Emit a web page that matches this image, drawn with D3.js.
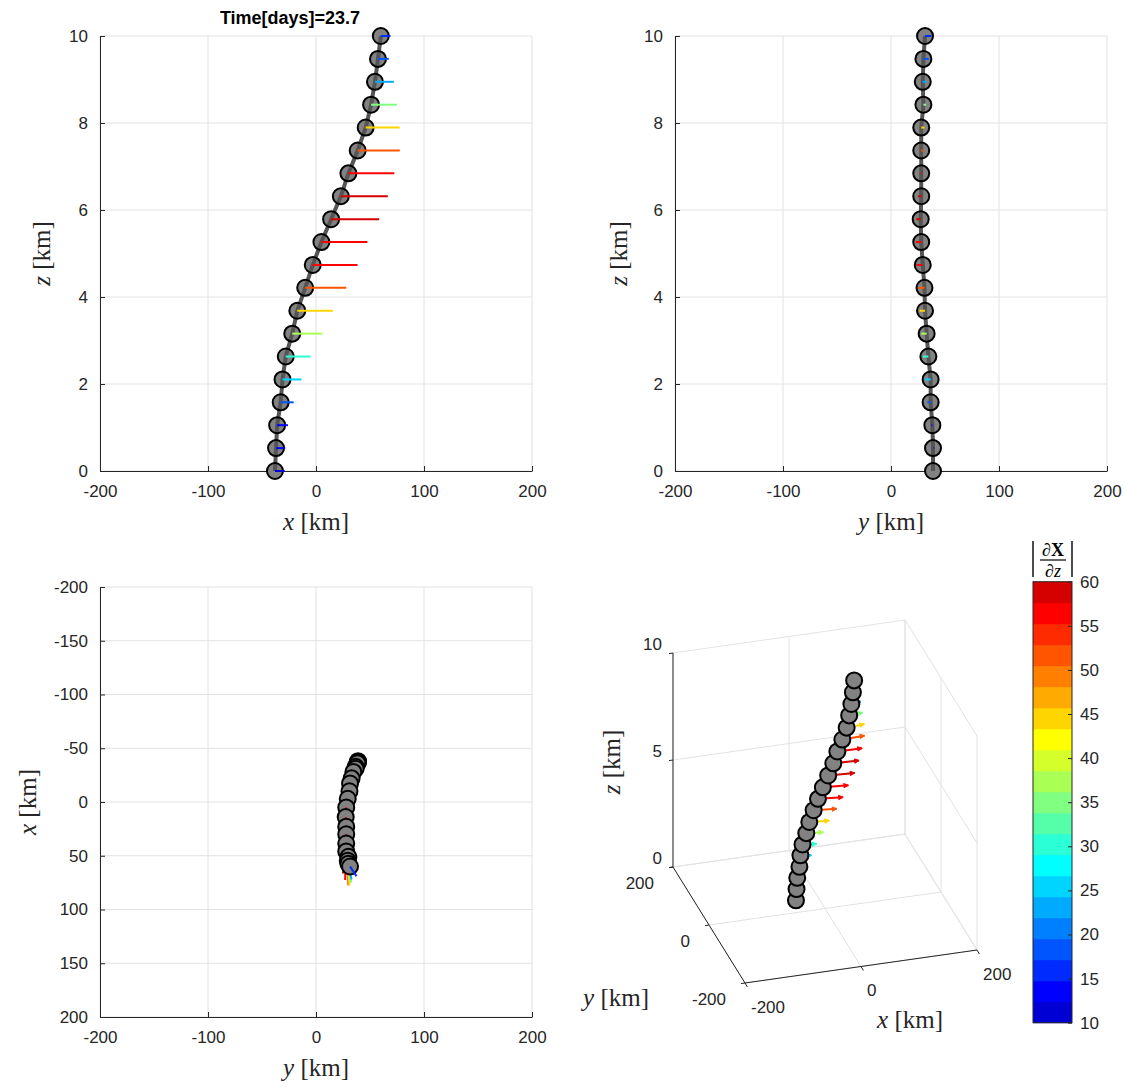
<!DOCTYPE html>
<html><head><meta charset="utf-8">
<script src="https://cdn.jsdelivr.net/npm/d3@7"></script>
<style>body{margin:0;background:#fff}</style>
</head><body>
<svg id="c" width="1124" height="1090" xmlns="http://www.w3.org/2000/svg"></svg>
<script>
// ---- data ----
const titleText = "Time[days]=23.7";
const zVals = [0, 0.526, 1.053, 1.579, 2.105, 2.632, 3.158, 3.684, 4.211, 4.737, 5.263, 5.789, 6.316, 6.842, 7.368, 7.895, 8.421, 8.947, 9.474, 10];
const xVals = [-38, -37, -36, -32.7, -31, -28, -22, -17.3, -10, -3, 5, 14, 23, 30, 38.6, 46, 51, 54.6, 57.4, 60];
const yVals = [38.9, 38.9, 38.3, 36.7, 36.7, 34.6, 33, 31.5, 31, 29.4, 28, 27.5, 28, 28, 28, 28, 30, 29.4, 30, 31.5];
const uVals = [9, 8.5, 10, 12, 17.5, 23, 28, 33, 38, 41.5, 42.5, 44.5, 43.5, 42.5, 39, 31.5, 24, 17.5, 10, 9];
const vVals = [0, 0.5, -1, -3, -5, -5, -5, -5, -6, -6, -5, -4, -3, -1, 2, 3, 2.5, 3.5, 5, 6];
const magVals = [11, 13.5, 14.5, 18.5, 25.5, 30, 37.5, 44.5, 51.5, 56, 56.5, 58.5, 58.5, 57, 51.5, 44.5, 35, 23, 18, 17];
const jetColors = ["#0000D5","#0000FF","#002BFF","#0055FF","#0080FF","#00AAFF","#00D5FF","#00FFFF","#2BFFD5","#55FFAA","#80FF80","#AAFF55","#D5FF2B","#FFFF00","#FFD500","#FFAA00","#FF8000","#FF5500","#FF2B00","#FF0000","#D50000"];
const cbDomain = [10, 60];
const cbTicks = [10, 15, 20, 25, 30, 35, 40, 45, 50, 55, 60];
const kmDomain = [-200, 200];
const kmTicks = [-200, -100, 0, 100, 200];
const kmTicksFine = [-200, -150, -100, -50, 0, 50, 100, 150, 200];
const zDomain = [0, 10];
const zTicks = [0, 2, 4, 6, 8, 10];
const ticks3D = [-200, 0, 200];
const zTicks3D = [0, 5, 10];

// ---- style ----
const AX = "#262626", GRID = "#e2e2e2";
const SANS = "'Liberation Sans', Arial, Helvetica, sans-serif";
const SERIF = "'Liberation Serif', 'Times New Roman', serif";
const TICKFS = 17;
const R = 8;
const fmt = d => String(d);

const svg = d3.select("#c");
svg.append("rect").attr("width",1124).attr("height",1090).attr("fill","#fff");
const color = d3.scaleQuantize().domain(cbDomain).range(jetColors);
const idx = d3.range(zVals.length);

function latexLabel(g, v, x, y, rot) {
  const t = g.append("text").attr("font-family", SERIF).attr("font-size", 25).attr("fill", AX)
    .attr("text-anchor","middle").attr("dy","0.3em")
    .attr("transform", `translate(${x},${y})` + (rot ? " rotate(-90)" : ""));
  t.append("tspan").attr("font-style","italic").text(v);
  t.append("tspan").text(" [km]");
}

function styleAxis(g) {
  g.selectAll(".domain").attr("stroke", AX).attr("stroke-width", 1);
  g.selectAll(".tick line").attr("stroke", AX).attr("stroke-width", 1);
  g.selectAll(".tick text").attr("fill", AX).attr("font-family", SANS).attr("font-size", TICKFS);
}

function panel2D(o) {
  const g = svg.append("g");
  const hs = d3.scaleLinear().domain(kmDomain).range([o.left, o.right]);
  const vs = d3.scaleLinear().domain(o.vDomain).range(o.vRange);
  g.selectAll(".gv").data(kmTicks).join("line")
    .attr("x1", d => hs(d)).attr("x2", d => hs(d)).attr("y1", o.top).attr("y2", o.bottom)
    .attr("stroke", GRID).attr("stroke-width", 1);
  g.selectAll(".gh").data(o.vTicks).join("line")
    .attr("x1", o.left).attr("x2", o.right).attr("y1", d => vs(d)).attr("y2", d => vs(d))
    .attr("stroke", GRID).attr("stroke-width", 1);
  const ab = g.append("g").attr("transform", `translate(0,${o.bottom})`)
    .call(d3.axisBottom(hs).tickValues(kmTicks).tickSizeInner(-5).tickSizeOuter(0).tickPadding(14).tickFormat(fmt));
  styleAxis(ab);
  const al = g.append("g").attr("transform", `translate(${o.left},0)`)
    .call(d3.axisLeft(vs).tickValues(o.vTicks).tickSizeInner(-5).tickSizeOuter(0).tickPadding(12).tickFormat(fmt));
  styleAxis(al);
  latexLabel(g, o.hLabel, (o.left + o.right) / 2, o.bottom + 51, false);
  latexLabel(g, o.vLabel, o.vLabelX, (o.top + o.bottom) / 2, true);

  const H = i => hs(o.hOf(i)), V = i => vs(o.vOf(i));
  const HT = i => hs(o.hOf(i) + o.duOf(i)), VT = i => vs(o.vOf(i) + o.dvOf(i));
  const line = d3.line().x(H).y(V);
  const drawArrow = (sel) => sel.append("line")
      .attr("x1", H).attr("y1", V).attr("x2", HT).attr("y2", VT)
      .attr("stroke", i => color(magVals[i])).attr("stroke-width", 2);
  if (!o.interleave) {
    g.selectAll(".cf").data(idx).join("circle").attr("cx", H).attr("cy", V).attr("r", R).attr("fill", "#828282");
    g.append("path").attr("d", line(idx)).attr("fill","none").attr("stroke","#555").attr("stroke-width",4);
    g.selectAll(".co").data(idx).join("circle").attr("cx", H).attr("cy", V).attr("r", R)
      .attr("fill","none").attr("stroke","#000").attr("stroke-width",2);
    const ag = g.append("g");
    idx.forEach(i => drawArrow(ag.append("g").datum(i)));
  } else {
    g.append("path").attr("d", line(idx)).attr("fill","none").attr("stroke","#555").attr("stroke-width",4);
    idx.forEach(i => {
      const pg = g.append("g").datum(i);
      pg.append("circle").attr("cx", H).attr("cy", V).attr("r", R).attr("fill","#828282").attr("stroke","#000").attr("stroke-width",2);
      drawArrow(pg);
    });
  }
  return g;
}

panel2D({left:100, right:532, top:36, bottom:471, vDomain:zDomain, vRange:[471,36], vTicks:zTicks,
  hLabel:"x", vLabel:"z", vLabelX:42,
  hOf:i=>xVals[i], vOf:i=>zVals[i], duOf:i=>uVals[i], dvOf:i=>0, interleave:false});
panel2D({left:675, right:1107, top:36, bottom:471, vDomain:zDomain, vRange:[471,36], vTicks:zTicks,
  hLabel:"y", vLabel:"z", vLabelX:619,
  hOf:i=>yVals[i], vOf:i=>zVals[i], duOf:i=>vVals[i], dvOf:i=>0, interleave:false});
panel2D({left:100, right:532, top:587, bottom:1017, vDomain:kmDomain, vRange:[587,1017], vTicks:kmTicksFine,
  hLabel:"y", vLabel:"x", vLabelX:28,
  hOf:i=>yVals[i], vOf:i=>xVals[i], duOf:i=>vVals[i], dvOf:i=>uVals[i], interleave:true});

svg.append("text").attr("x", 290).attr("y", 24).attr("text-anchor","middle")
  .attr("font-family", SANS).attr("font-weight","bold").attr("font-size",18).attr("fill","#000").text(titleText);

// ---- 3D panel ----
const g3 = svg.append("g");
const O3 = [673, 867], EX = [232, -33], EY = [72, 116], EZ = [0, -214];
const sx3 = d3.scaleLinear().domain(kmDomain).range([0,1]);
const sy3 = d3.scaleLinear().domain([200,-200]).range([0,1]);
const sz3 = d3.scaleLinear().domain(zDomain).range([0,1]);
const P = (x,y,z) => [O3[0] + sx3(x)*EX[0] + sy3(y)*EY[0] + sz3(z)*EZ[0],
                      O3[1] + sx3(x)*EX[1] + sy3(y)*EY[1] + sz3(z)*EZ[1]];
const seg = (a, b, col, w) => g3.append("line").attr("x1",a[0]).attr("y1",a[1]).attr("x2",b[0]).attr("y2",b[1])
  .attr("stroke",col).attr("stroke-width",w);
ticks3D.forEach(t => { seg(P(t,200,0), P(t,-200,0), GRID, 1); seg(P(-200,t,0), P(200,t,0), GRID, 1);
  seg(P(t,200,0), P(t,200,10), GRID, 1); seg(P(200,t,0), P(200,t,10), GRID, 1); });
zTicks3D.forEach(t => { seg(P(-200,200,t), P(200,200,t), GRID, 1); seg(P(200,200,t), P(200,-200,t), GRID, 1); });
seg(P(-200,200,0), P(-200,200,10), AX, 1);
seg(P(-200,200,0), P(-200,-200,0), AX, 1);
seg(P(-200,-200,0), P(200,-200,0), AX, 1);
const tlab = (x, y, txt, anchor) => g3.append("text").attr("x",x).attr("y",y).attr("text-anchor",anchor)
  .attr("dy","0.35em").attr("font-family",SANS).attr("font-size",TICKFS).attr("fill",AX).text(fmt(txt));
zTicks3D.forEach(t => { const p = P(-200,200,t); seg(p, [p[0]-4, p[1]+0.6], AX, 1); tlab(p[0]-11, p[1]-9, t, "end"); });
ticks3D.forEach(t => { const p = P(-200,t,0); seg(p, [p[0]-4, p[1]+0.6], AX, 1); tlab(p[0]-19, p[1]+16, t, "end"); });
ticks3D.forEach(t => { const p = P(t,-200,0); seg(p, [p[0]+2.4, p[1]+4], AX, 1); tlab(p[0]+6, p[1]+24, t, "start"); });
latexLabel(g3, "z", 612, 762, true);
latexLabel(g3, "y", 616, 998, false);
latexLabel(g3, "x", 910, 1020, false);
const pts3 = idx.map(i => P(xVals[i], yVals[i], zVals[i]));
g3.append("path").attr("d", d3.line()(pts3)).attr("fill","none").attr("stroke","#555").attr("stroke-width",4);
idx.forEach(i => {
  const a = pts3[i], b = P(xVals[i] + uVals[i], yVals[i] + vVals[i], zVals[i]);
  const c = color(magVals[i]);
  seg(a, b, c, 2);
  const ang = Math.atan2(b[1]-a[1], b[0]-a[0]);
  const hl = 5, ha = 0.45;
  const h1 = [b[0] - hl*Math.cos(ang-ha), b[1] - hl*Math.sin(ang-ha)];
  const h2 = [b[0] - hl*Math.cos(ang+ha), b[1] - hl*Math.sin(ang+ha)];
  g3.append("path").attr("d", `M${h1}L${b}L${h2}Z`).attr("fill", c).attr("stroke", c).attr("stroke-width",1);
});
idx.forEach(i => {
  g3.append("circle").attr("cx", pts3[i][0]).attr("cy", pts3[i][1]).attr("r", R)
    .attr("fill","#828282").attr("stroke","#000").attr("stroke-width",2);
});

// ---- colorbar ----
const cbx0 = 1033, cbx1 = 1072;
const cs = d3.scaleLinear().domain(cbDomain).range([1022.7, 581.7]);
const cg = svg.append("g");
const nb = jetColors.length, bw = (cbDomain[1]-cbDomain[0]) / nb;
cg.selectAll("rect.b").data(jetColors).join("rect")
  .attr("x", cbx0).attr("width", cbx1-cbx0)
  .attr("y", (d,i) => cs(cbDomain[0] + (i+1)*bw)).attr("height", (d,i) => cs(cbDomain[0] + i*bw) - cs(cbDomain[0] + (i+1)*bw) + 0.5)
  .attr("fill", d => d);
cg.append("rect").attr("x", cbx0).attr("y", cs(cbDomain[1])).attr("width", cbx1-cbx0).attr("height", cs(cbDomain[0]) - cs(cbDomain[1]))
  .attr("fill","none").attr("stroke", AX).attr("stroke-width",1);
const cax = cg.append("g").attr("transform", `translate(${cbx1},0)`)
  .call(d3.axisRight(cs).tickValues(cbTicks).tickSizeInner(-4).tickSizeOuter(0).tickPadding(8).tickFormat(fmt));
styleAxis(cax);
cax.select(".domain").remove();
const lg = cg.append("g");
lg.append("line").attr("x1",1033).attr("x2",1033).attr("y1",541).attr("y2",577).attr("stroke","#000").attr("stroke-width",1.4);
lg.append("line").attr("x1",1072).attr("x2",1072).attr("y1",541).attr("y2",577).attr("stroke","#000").attr("stroke-width",1.4);
lg.append("line").attr("x1",1040).attr("x2",1066).attr("y1",560).attr("y2",560).attr("stroke","#000").attr("stroke-width",1.2);
const num = lg.append("text").attr("x",1053).attr("y",556).attr("text-anchor","middle").attr("font-family",SERIF).attr("font-size",18);
num.append("tspan").text("∂");
num.append("tspan").attr("font-weight","bold").text("X");
const den = lg.append("text").attr("x",1053).attr("y",577).attr("text-anchor","middle").attr("font-family",SERIF).attr("font-size",18);
den.append("tspan").text("∂");
den.append("tspan").attr("font-style","italic").text("z");
</script>
</body></html>
